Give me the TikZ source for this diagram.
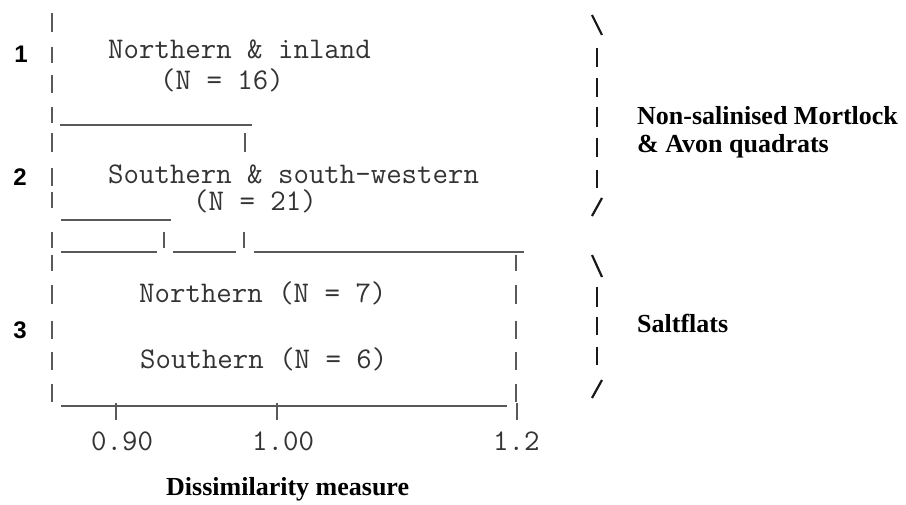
\documentclass[tikz,border=0pt]{standalone}
\usepackage{fontspec}
\setmainfont{Liberation Serif}
\setsansfont{Liberation Sans}
\usetikzlibrary{positioning}

\begin{document}
\begin{tikzpicture}[x=1pt, y=-1pt,
      bar/.style={line width=1.1pt, black!65},
      brk/.style={line width=2.8pt, black!90},
      slash/.style={line width=2.2pt, black!90},
      mono/.style={font=\fontsize{30}{36}\selectfont\ttfamily, text=black!80,
                   inner sep=0pt, anchor=base west},
      num/.style={font=\fontsize{24}{28}\selectfont\sffamily\bfseries,
                  inner sep=0pt, anchor=base},
      lbl/.style={font=\fontsize{26}{28}\selectfont\bfseries, inner sep=0pt,
                  anchor=base west}
    ]
      \useasboundingbox (0,0) rectangle (906,505);

      \node[num] (g1) at (21,63) {1};
      \node[num] (g2) at (20,186) {2};
      \node[num] (g3) at (20,339) {3};

      \foreach \ya/\yb in {13/32, 47/63, 75/93, 107/123, 133/152, 168/186, 192/208,
                           232/248, 255/271, 285/304, 321/339, 352/370, 384/402}
        \draw[bar] (52,\ya) -- (52,\yb);
      \foreach \ya/\yb in {255/271, 285/304, 321/339, 352/370, 384/402}
        \draw[bar] (516,\ya) -- (516,\yb);
      \draw[bar] (245,133) -- (245,152);
      \draw[bar] (164,232) -- (164,248);
      \draw[bar] (244,232) -- (244,248);

      \draw[bar] (60,125) -- (252,125);
      \draw[bar] (61,220) -- (171,220);
      \draw[bar] (61,252) -- (157,252);
      \draw[bar] (173,252) -- (236,252);
      \draw[bar] (254,252) -- (524,252);
      \draw[bar] (61,406) -- (507,406);

      \node[mono] (north) at (108,59) {Northern \& inland};
      \node[mono] (northn) at (160,90) {(N = 16)};
      \node[mono] (south) at (108,184) {Southern \& south-western};
      \node[mono] (southn) at (193,211) {(N = 21)};
      \node[mono] (saltn) at (139,303) {Northern (N = 7)};
      \node[mono] (salts) at (140,369) {Southern (N = 6)};

      \foreach \x in {116, 277, 517}
        \draw[bar] (\x,403) -- (\x,420);
      \node[mono] (t090) at (91,450) {0.90};
      \node[mono] (t100) at (252,450) {1.00};
      \node[mono] (t12) at (493,450) {1.2};

      \draw[slash] (592,15) -- (602,35);
      \foreach \ya/\yb in {48/67, 78/97, 107/127, 138/157, 170/188}
        \draw[brk] (597,\ya) -- (597,\yb);
      \draw[slash] (602,198) -- (592,216);
      \draw[slash] (592,255) -- (602,277);
      \foreach \ya/\yb in {287/307, 317/335, 347/365}
        \draw[brk] (597,\ya) -- (597,\yb);
      \draw[slash] (602,380) -- (592,398);

      \node[lbl] (nonsal) at (637,125) {Non-salinised Mortlock};
      \node[lbl] (avon) at (637,153) {\& Avon quadrats};
      \node[lbl] (salt) at (637,333) {Saltflats};
      \node[lbl] (axis) at (166,495) {Dissimilarity measure};
    \end{tikzpicture}
\end{document}
